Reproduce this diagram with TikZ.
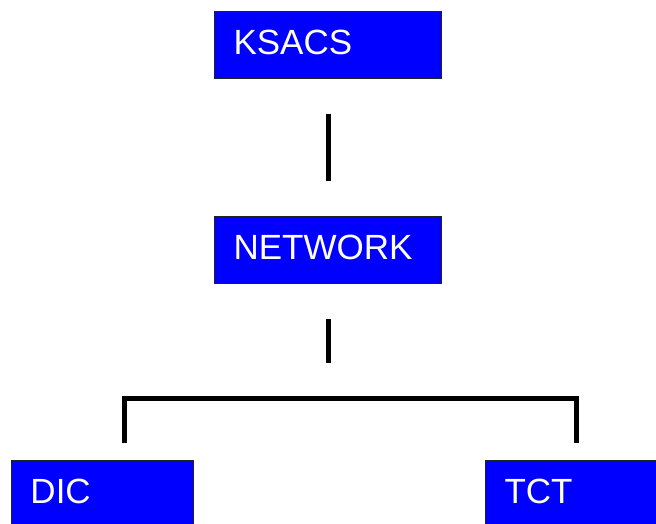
\documentclass[tikz,border=0pt]{standalone}
\usepackage{fontspec}
\setmainfont{Liberation Sans}
\usepackage{tikz}
\usetikzlibrary{positioning,calc}
\definecolor{boxblue}{HTML}{0000FF}
\definecolor{edge}{HTML}{222222}

\begin{document}
\begin{tikzpicture}[x=1pt, y=-1pt,
  box/.style={draw=edge, line width=1pt, fill=boxblue, text=white, anchor=north west,
    minimum height=67pt, inner xsep=19pt, inner ysep=0pt, align=left,
    text height=25pt, text depth=7pt, font=\fontsize{35}{42}\selectfont},
  link/.style={line width=5pt, black}]
\useasboundingbox (0,0) rectangle (656,523);
\node[box, text width=189pt] (ksacs) at (214,11) {KSACS};
\node[box, text width=189pt] (net) at (214,216) {NETWORK};
\node[box, text width=144pt] (dic) at (11,460) {DIC};
\node[box, text width=189pt] (tct) at (485,460) {TCT};
\coordinate (bus) at (328,398);
\coordinate (busl) at (124.5,398);
\coordinate (busr) at (576,398);
\draw[link, shorten <=35pt, shorten >=35pt] (ksacs.south) -- (net.north);
\draw[link, shorten <=35pt, shorten >=35pt] (net.south) -- (bus);
\draw[link, shorten <=17pt, shorten >=17pt] (dic.north -| busl) -- (busl) -- (busr) -- (tct.north -| busr);
\end{tikzpicture}
\end{document}
